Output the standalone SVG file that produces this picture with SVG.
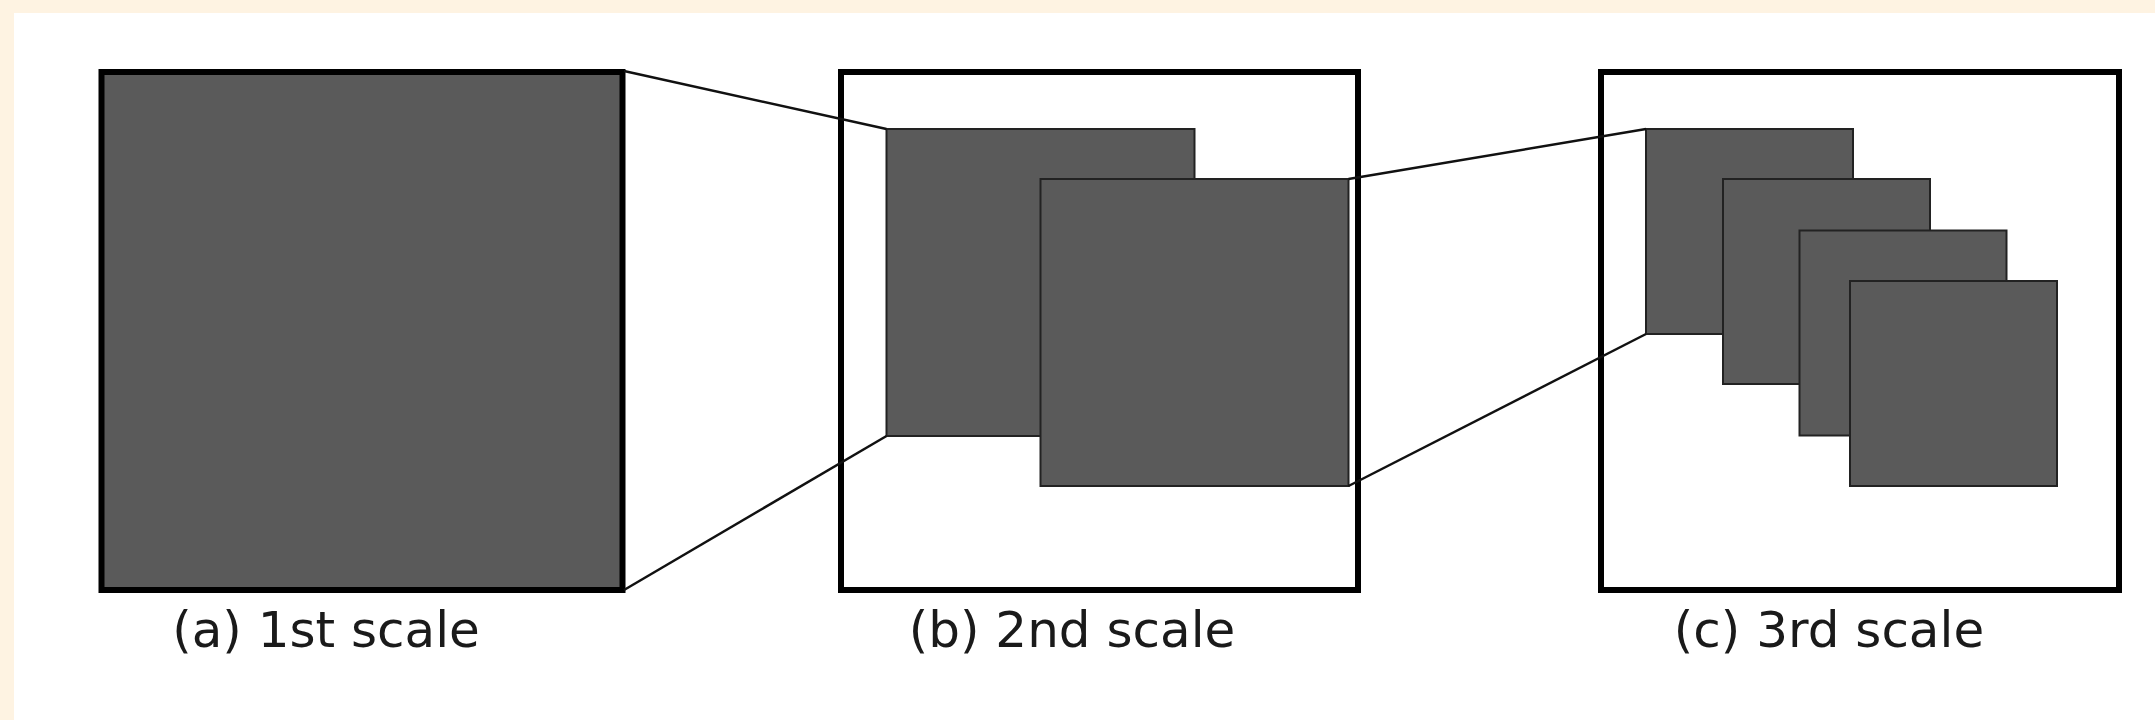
<svg xmlns="http://www.w3.org/2000/svg" width="2155" height="720" viewBox="0 0 2155 720">
<style>
.frame{fill:none;stroke:#000;stroke-width:6}
.big{fill:#5a5a5a;stroke:#000;stroke-width:6}
.sq{fill:#5a5a5a;stroke:#222;stroke-width:2}
.conn{stroke:#111;stroke-width:2.5;fill:none}
.lbl{font-family:"DejaVu Sans",sans-serif;font-size:50px;fill:#1a1a1a;text-anchor:middle}
</style>
<rect x="0" y="0" width="2155" height="720" fill="#fef3e2"/>
<rect x="14" y="13" width="2141" height="707" fill="#ffffff"/>
<g id="scale1">
<rect class="big" x="101.5" y="72" width="521" height="518"/>
<text class="lbl" x="326" y="647">(a) 1st scale</text>
</g>
<g id="scale2">
<rect class="frame" x="841" y="72" width="517" height="518"/>
<rect class="sq" x="886.5" y="129" width="308" height="307"/>
<rect class="sq" x="1040.5" y="179" width="308" height="307"/>
<text class="lbl" x="1072" y="647">(b) 2nd scale</text>
</g>
<g id="scale3">
<rect class="frame" x="1601" y="72" width="518" height="518"/>
<rect class="sq" x="1646" y="129" width="207" height="205"/>
<rect class="sq" x="1723" y="179" width="207" height="205"/>
<rect class="sq" x="1799.5" y="230.5" width="207" height="205"/>
<rect class="sq" x="1850" y="281" width="207" height="205"/>
<text class="lbl" x="1829" y="647">(c) 3rd scale</text>
</g>
<g id="connectors">
<line class="conn" x1="624" y1="71" x2="886.5" y2="129"/>
<line class="conn" x1="624" y1="590" x2="886.5" y2="436"/>
<line class="conn" x1="1348.5" y1="179" x2="1646" y2="129"/>
<line class="conn" x1="1348.5" y1="486" x2="1646" y2="334"/>
</g>
</svg>
